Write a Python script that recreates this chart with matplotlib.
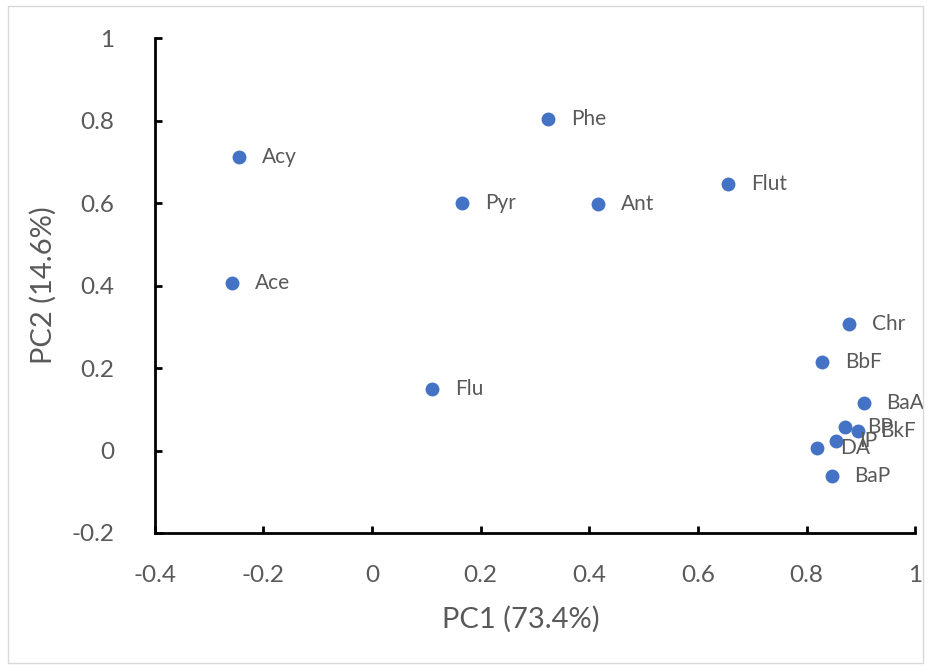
import matplotlib
matplotlib.use("Agg")
import matplotlib.pyplot as plt
from matplotlib.patches import Rectangle

# PCA loadings
names = ["Acy", "Ace", "Phe", "Pyr", "Ant", "Flut", "Flu",
         "Chr", "BbF", "BaA", "BP", "BkF", "IP", "DA", "BaP"]
pc1 = [-0.244, -0.257, 0.325, 0.166, 0.417, 0.656, 0.111,
       0.879, 0.828, 0.905, 0.870, 0.894, 0.855, 0.820, 0.846]
pc2 = [0.711, 0.406, 0.804, 0.600, 0.598, 0.646, 0.149,
       0.307, 0.214, 0.114, 0.058, 0.048, 0.022, 0.005, -0.061]

xticks = [-0.4, -0.2, 0, 0.2, 0.4, 0.6, 0.8, 1]
yticks = [-0.2, 0, 0.2, 0.4, 0.6, 0.8, 1]

plt.rcParams["font.family"] = ["Lato", "DejaVu Sans"]
grey = "#595959"

fig = plt.figure(figsize=(9.31, 6.67), dpi=100)
ax = fig.add_axes([0.166, 0.2009, 0.817, 0.742])

ax.scatter(pc1, pc2, s=100, color="#4472C4", zorder=3, linewidths=0)
for n, x, y in zip(names, pc1, pc2):
    ax.annotate(n, (x, y), xytext=(16.5, 0), textcoords="offset points",
                va="center", ha="left", fontsize=15, color=grey)

ax.set_xlim(-0.4, 1)
ax.set_ylim(-0.2, 1)
ax.set_xticks(xticks)
ax.set_yticks(yticks)
ax.set_xticklabels([f"{t:g}" for t in xticks])
ax.set_yticklabels([f"{t:g}" for t in yticks])
ax.tick_params(direction="in", length=5, width=2, color="black",
               labelsize=17.5, labelcolor=grey)
ax.tick_params(axis="y", pad=29)
ax.tick_params(axis="x", pad=23)
for side in ("top", "right"):
    ax.spines[side].set_visible(False)
for side in ("left", "bottom"):
    ax.spines[side].set_linewidth(2)

ax.set_xlabel("PC1 (73.4%)", fontsize=21, color=grey)
ax.set_ylabel("PC2 (14.6%)", fontsize=21, color=grey)
ax.xaxis.set_label_coords(0.482, -0.147)
ax.yaxis.set_label_coords(-0.128, 0.501)

# light chart-area border
fig.patches.append(Rectangle((0.009, 0.006), 0.982, 0.985, transform=fig.transFigure,
                             fill=False, edgecolor="#d9d9d9", linewidth=1))

fig.savefig("out.png", dpi=100)
